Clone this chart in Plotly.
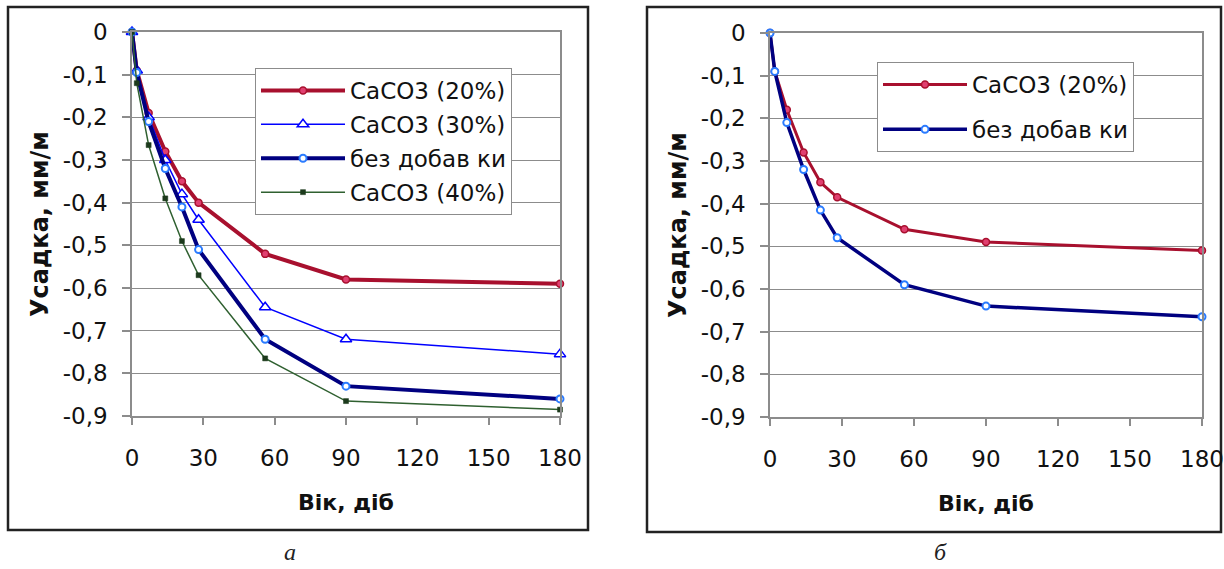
import plotly.graph_objects as go

# ---- data ----
days = [0, 2, 7, 14, 21, 28, 56, 90, 180]

# chart a
a_caco3_20 = [0, -0.09, -0.19, -0.28, -0.35, -0.40, -0.52, -0.58, -0.59]
a_caco3_30 = [0, -0.09, -0.20, -0.30, -0.38, -0.44, -0.645, -0.72, -0.755]
a_none = [0, -0.095, -0.21, -0.32, -0.41, -0.51, -0.72, -0.83, -0.86]
a_caco3_40 = [0, -0.12, -0.265, -0.39, -0.49, -0.57, -0.765, -0.865, -0.885]

# chart b
b_caco3_20 = [0, -0.09, -0.18, -0.28, -0.35, -0.385, -0.46, -0.49, -0.51]
b_none = [0, -0.09, -0.21, -0.32, -0.415, -0.48, -0.59, -0.64, -0.665]

x_ticks = [0, 30, 60, 90, 120, 150, 180]
y_ticks = [0, -0.1, -0.2, -0.3, -0.4, -0.5, -0.6, -0.7, -0.8, -0.9]
y_labels = ["0", "-0,1", "-0,2", "-0,3", "-0,4", "-0,5", "-0,6", "-0,7", "-0,8", "-0,9"]

name_20 = "CaCO3 (20%)"
name_30 = "CaCO3 (30%)"
name_none = "без добав ки"
name_40 = "CaCO3 (40%)"
x_title = "Вік, діб"
y_title = "Усадка, мм/м"
captions = ["а", "б"]

W, H = 1224, 569
FONT = "DejaVu Sans"

RED = "#A8102E"
RED_M = "#E04070"
BLUE = "#0000FF"
NAVY = "#000080"
NAVY_M = "#2A7BFF"
GREEN = "#2F6030"

fig = go.Figure()

# ---- chart a ----
fig.add_trace(go.Scatter(x=days, y=a_caco3_20, name=name_20, mode="lines+markers",
                         line=dict(color=RED, width=4),
                         marker=dict(symbol="circle", size=7, color=RED_M, line=dict(color=RED, width=1.5)),
                         xaxis="x", yaxis="y", legend="legend", legendgroup="a1", cliponaxis=False))
fig.add_trace(go.Scatter(x=days, y=a_caco3_30, name=name_30, mode="lines+markers",
                         line=dict(color=BLUE, width=1.5),
                         marker=dict(symbol="triangle-up", size=10, color="white", line=dict(color=BLUE, width=1.5)),
                         xaxis="x", yaxis="y", legend="legend", legendgroup="a2", cliponaxis=False))
fig.add_trace(go.Scatter(x=days, y=a_none, name=name_none, mode="lines+markers",
                         line=dict(color=NAVY, width=4),
                         marker=dict(symbol="circle", size=7, color="white", line=dict(color=NAVY_M, width=2)),
                         xaxis="x", yaxis="y", legend="legend", legendgroup="a3", cliponaxis=False))
fig.add_trace(go.Scatter(x=days, y=a_caco3_40, name=name_40, mode="lines+markers",
                         line=dict(color=GREEN, width=1.5),
                         marker=dict(symbol="square", size=5, color="#1C3A1C", line=dict(color="#1C3A1C", width=0.5)),
                         xaxis="x", yaxis="y", legend="legend", legendgroup="a4", cliponaxis=False))

# ---- chart b ----
fig.add_trace(go.Scatter(x=days, y=b_caco3_20, name=name_20, mode="lines+markers",
                         line=dict(color=RED, width=3),
                         marker=dict(symbol="circle", size=7, color=RED_M, line=dict(color=RED, width=1.5)),
                         xaxis="x2", yaxis="y2", legend="legend2", legendgroup="b1", cliponaxis=False))
fig.add_trace(go.Scatter(x=days, y=b_none, name=name_none, mode="lines+markers",
                         line=dict(color=NAVY, width=3.5),
                         marker=dict(symbol="circle", size=7, color="white", line=dict(color=NAVY_M, width=2)),
                         xaxis="x2", yaxis="y2", legend="legend2", legendgroup="b2", cliponaxis=False))

GRID = "#8C8C8C"
tickfont = dict(family=FONT, size=23, color="#111")
xtitlefont = dict(family=FONT, size=22, color="#111", weight="bold")
ytitlefont = dict(family=FONT, size=24, color="#111", weight="bold")

def xaxis(domain, anchor):
    return dict(domain=domain, anchor=anchor, range=[0, 180], tickmode="array", tickvals=x_ticks,
                ticks="outside", ticklen=7, tickcolor=GRID, tickwidth=1.5, ticklabelstandoff=14,
                showgrid=False, zeroline=False, showline=True, linecolor=GRID, linewidth=1.5, mirror=True,
                automargin=False,
                tickfont=tickfont, title=dict(text=x_title, font=xtitlefont, standoff=24))

def yaxis(domain, anchor):
    return dict(domain=domain, anchor=anchor, range=[-0.9, 0], tickmode="array", tickvals=y_ticks,
                ticktext=y_labels, ticks="outside", ticklen=8, tickcolor=GRID, tickwidth=1.5,
                ticklabelstandoff=10, automargin=False,
                showgrid=True, gridcolor=GRID, gridwidth=1, zeroline=False,
                showline=True, linecolor=GRID, linewidth=1.5, mirror=True,
                tickfont=tickfont, title=dict(text=y_title, font=ytitlefont, standoff=7))

fig.update_layout(
    width=W, height=H,
    margin=dict(l=0, r=0, t=0, b=0, autoexpand=False),
    paper_bgcolor="white", plot_bgcolor="white",
    font=dict(family=FONT, color="#111"),
    xaxis=xaxis([132 / W, 560 / W], "y"),
    yaxis=yaxis([1 - 416 / H, 1 - 32 / H], "x"),
    xaxis2=xaxis([770 / W, 1202 / W], "y2"),
    yaxis2=yaxis([1 - 417 / H, 1 - 33 / H], "x2"),
    legend=dict(x=255 / W, y=1 - 68 / H, xanchor="left", yanchor="top",
                bgcolor="white", bordercolor=GRID, borderwidth=1,
                font=dict(family=FONT, size=23, color="#111"), itemwidth=84,
                tracegroupgap=1),
    legend2=dict(x=877 / W, y=1 - 62 / H, xanchor="left", yanchor="top",
                 bgcolor="white", bordercolor=GRID, borderwidth=1,
                 font=dict(family=FONT, size=23, color="#111"), itemwidth=84,
                 tracegroupgap=12),
    showlegend=True,
)

# outer frames of the two charts
fig.add_shape(type="rect", xref="paper", yref="paper", x0=8 / W, x1=588 / W, y0=1 - 530 / H, y1=1 - 7 / H,
              line=dict(color="#222", width=2.5), layer="below")
fig.add_shape(type="rect", xref="paper", yref="paper", x0=647 / W, x1=1221 / W, y0=1 - 532 / H, y1=1 - 7 / H,
              line=dict(color="#222", width=2.5), layer="below")

# captions
fig.add_annotation(text="<i>" + captions[0] + "</i>", xref="paper", yref="paper", x=290 / W, y=1 - 567 / H,
                   xanchor="center", yanchor="bottom", showarrow=False,
                   font=dict(family="Liberation Serif", size=24, color="#222"))
fig.add_annotation(text="<i>" + captions[1] + "</i>", xref="paper", yref="paper", x=940 / W, y=1 - 567 / H,
                   xanchor="center", yanchor="bottom", showarrow=False,
                   font=dict(family="Liberation Serif", size=24, color="#222"))

fig.write_html("out.html", config={"displayModeBar": False},
               post_script="document.body.style.margin='0';document.body.style.padding='0';")
